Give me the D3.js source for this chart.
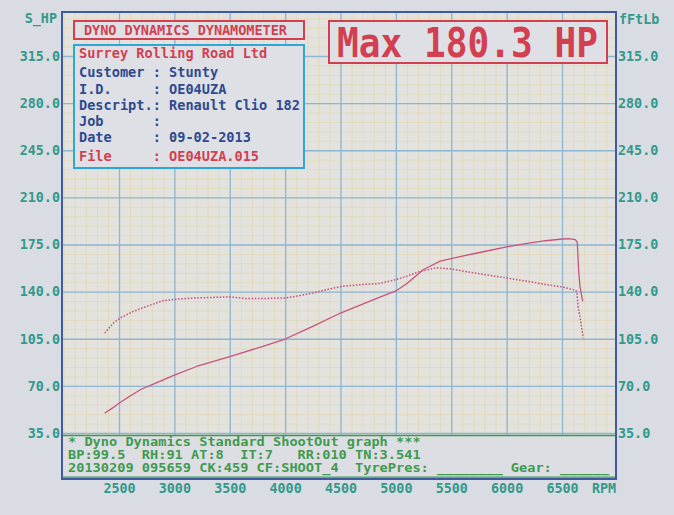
<!DOCTYPE html>
<html><head><meta charset="utf-8">
<script src="https://cdn.jsdelivr.net/npm/d3@7/dist/d3.min.js"></script>
<style>
html,body{margin:0;padding:0;background:#d9dce3;}
svg{display:block;}
text{font-family:"DejaVu Sans Mono","Liberation Mono",monospace;font-weight:bold;}
</style></head>
<body>
<svg id="c" width="674" height="515"></svg>
<script>
// ---- data ----
const powerRpm = [2370,2450,2500,2600,2700,2800,2900,3000,3200,3500,3800,4000,4250,4500,4650,4850,5000,5100,5250,5400,5600,5800,6000,6200,6350,6480,6560,6620,6638,6645,6650,6662,6675,6687];
const powerHp  = [49.7,54.0,57.1,62.5,67.5,71.0,74.5,78.0,84.4,91.8,99.3,104.8,114.2,124.1,129.1,135.8,140.5,146.0,156.4,162.6,166.3,169.8,173.3,176.0,177.8,178.9,179.4,178.6,176.7,165.0,156.0,144.0,138.0,132.8];
const torqueRpm = [2370,2450,2510,2630,2750,2900,3050,3200,3500,3650,3800,4000,4100,4250,4400,4525,4700,4850,5000,5100,5220,5370,5490,5700,6000,6200,6360,6500,6600,6633,6645,6665,6680,6693];
const torqueFtLb = [109.2,116.7,120.4,125.3,129.1,133.3,134.6,135.3,136.1,134.8,134.9,135.3,136.5,139.0,142.0,144.0,145.3,146.0,148.9,151.5,155.1,157.7,156.9,154.0,150.2,147.5,145.2,143.5,141.5,140.2,129.1,120.0,112.0,105.5];
const rpmTicks = [2500,3000,3500,4000,4500,5000,5500,6000,6500];
const valueTicks = [35,70,105,140,175,210,245,280,315];
const headerTitle = "DYNO DYNAMICS DYNAMOMETER";
const maxLabel = "Max 180.3 HP";
const infoLines = [
  {t:"Surrey Rolling Road Ltd", red:true},
  {t:"Customer : Stunty"},
  {t:"I.D.     : OE04UZA"},
  {t:"Descript.: Renault Clio 182"},
  {t:"Job      :"},
  {t:"Date     : 09-02-2013"},
  {t:"File     : OE04UZA.015", red:true}
];
const footLines = [
  "* Dyno Dynamics Standard ShootOut graph ***",
  "BP:99.5  RH:91 AT:8  IT:7   RR:010 TN:3.541",
  "20130209 095659 CK:459 CF:SHOOT_4  TyrePres: ________ Gear: ______"
];

// ---- layout ----
const svg = d3.select("#c");
const L = 62, R = 616, T = 12, B = 479, gridBottom = 435;
const x = d3.scaleLinear().domain([2500,6500]).range([119,562]);
const y = d3.scaleLinear().domain([35,315]).range([433,56]);

const teal = "#33998a", green = "#3f9a4e", red = "#d23f50", navy = "#2d4a8e",
      frame = "#3e5aa2", cyan = "#2ea6d6", major = "#8db6d3", minor = "#e0d49a", curve = "#c6547f";

svg.append("rect").attr("width",674).attr("height",515).attr("fill","#d9dce3");
svg.append("rect").attr("x",L).attr("y",T).attr("width",R-L).attr("height",B-T).attr("fill","#e3e2de");

const defs = svg.append("defs");
defs.append("clipPath").attr("id","plotclip").append("rect")
  .attr("x",L).attr("y",T).attr("width",R-L).attr("height",gridBottom-T);

const g = svg.append("g").attr("clip-path","url(#plotclip)");

// minor grid
const minorX = d3.range(2000,7101,100);
const minorY = d3.range(0,351,7);
g.append("g").call(d3.axisBottom(x).tickValues(minorX).tickSize(-(gridBottom-T)).tickFormat(""))
  .attr("transform",`translate(0,${gridBottom})`)
  .call(a=>{a.select(".domain").remove();a.selectAll("line").attr("stroke",minor).attr("stroke-width",0.8).attr("stroke-opacity",0.6);});
g.append("g").call(d3.axisLeft(y).tickValues(minorY).tickSize(-(R-L)).tickFormat(""))
  .attr("transform",`translate(${L},0)`)
  .call(a=>{a.select(".domain").remove();a.selectAll("line").attr("stroke",minor).attr("stroke-width",0.8).attr("stroke-opacity",0.6);});

// major grid
g.append("g").call(d3.axisBottom(x).tickValues(rpmTicks).tickSize(-(gridBottom-T)).tickFormat(""))
  .attr("transform",`translate(0,${gridBottom})`)
  .call(a=>{a.select(".domain").remove();a.selectAll("line").attr("stroke",major).attr("stroke-width",1.3);});
g.append("g").call(d3.axisLeft(y).tickValues(valueTicks).tickSize(-(R-L)).tickFormat(""))
  .attr("transform",`translate(${L},0)`)
  .call(a=>{a.select(".domain").remove();a.selectAll("line").attr("stroke",major).attr("stroke-width",1.3);});

// curves
const line = d3.line().x(d=>x(d[0])).y(d=>y(d[1]));
g.append("path").datum(powerRpm.map((r,i)=>[r,powerHp[i]])).attr("d",line)
  .attr("fill","none").attr("stroke",curve).attr("stroke-width",1.3).attr("stroke-linejoin","round");
g.append("path").datum(torqueRpm.map((r,i)=>[r,torqueFtLb[i]])).attr("d",line)
  .attr("fill","none").attr("stroke",curve).attr("stroke-width",1.5).attr("stroke-dasharray","1.6,1.6");

// header box
svg.append("rect").attr("x",74).attr("y",21).attr("width",230).attr("height",18)
  .attr("fill","#dfe0e6").attr("stroke",red).attr("stroke-width",2);
svg.append("text").attr("x",84).attr("y",30).attr("dy","0.36em").attr("fill",red)
  .attr("font-size",13.6).attr("textLength",203).text(headerTitle);

// info box
svg.append("rect").attr("x",74).attr("y",45).attr("width",230).attr("height",123)
  .attr("fill","#dfe0e6").attr("stroke",cyan).attr("stroke-width",2);
const lineYs = [53,72,89,105,121,137,156];
svg.append("g").selectAll("text").data(infoLines).join("text")
  .attr("x",79).attr("y",(d,i)=>lineYs[i]).attr("dy","0.36em")
  .attr("fill",d=>d.red?red:navy).attr("font-size",13.6)
  .attr("xml:space","preserve").style("white-space","pre").text(d=>d.t);

// max box
svg.append("rect").attr("x",329).attr("y",21).attr("width",278).attr("height",42)
  .attr("fill","#dfe0e6").attr("stroke",red).attr("stroke-width",2);
svg.append("text").attr("x",337).attr("y",57).attr("fill",red)
  .attr("font-size",40).attr("textLength",261).attr("lengthAdjust","spacingAndGlyphs").text(maxLabel);

// footer info box
svg.append("rect").attr("x",L).attr("y",gridBottom).attr("width",R-L).attr("height",B-gridBottom)
  .attr("fill","#dcdee3");
svg.append("line").attr("x1",L).attr("x2",R).attr("y1",gridBottom+0.5).attr("y2",gridBottom+0.5)
  .attr("stroke",green).attr("stroke-width",1.5);
svg.append("line").attr("x1",L).attr("x2",R).attr("y1",B-1.8).attr("y2",B-1.8)
  .attr("stroke",green).attr("stroke-width",1.2);
svg.append("g").selectAll("text").data(footLines).join("text")
  .attr("x",68).attr("y",(d,i)=>441+i*13).attr("dy","0.36em")
  .attr("fill",green).attr("font-size",13)
  .attr("textLength",d=>d.length*8.2).attr("lengthAdjust","spacingAndGlyphs")
  .attr("xml:space","preserve").style("white-space","pre").text(d=>d);

// frame
svg.append("rect").attr("x",L).attr("y",T).attr("width",R-L).attr("height",B-T)
  .attr("fill","none").attr("stroke",frame).attr("stroke-width",2);

// axes labels
const fmt = d3.format(".1f");
svg.append("g").attr("transform",`translate(${L-1},0)`)
  .call(d3.axisLeft(y).tickValues(valueTicks).tickSize(0).tickPadding(1).tickFormat(fmt))
  .call(a=>{a.select(".domain").remove();a.selectAll("text").attr("fill",teal).attr("font-size",13.4)
    .style("font-family","DejaVu Sans Mono").style("font-weight","bold");});
svg.append("g").attr("transform",`translate(${R+1},0)`)
  .call(d3.axisRight(y).tickValues(valueTicks).tickSize(0).tickPadding(1).tickFormat(fmt))
  .call(a=>{a.select(".domain").remove();a.selectAll("text").attr("fill",teal).attr("font-size",13.4)
    .style("font-family","DejaVu Sans Mono").style("font-weight","bold");});
svg.append("g").attr("transform",`translate(0,${B})`)
  .call(d3.axisBottom(x).tickValues(rpmTicks).tickSize(0).tickFormat(d3.format("d")))
  .call(a=>{a.select(".domain").remove();a.selectAll("text").attr("fill",teal).attr("font-size",13.4)
    .attr("y",9).attr("dy","0.36em")
    .style("font-family","DejaVu Sans Mono").style("font-weight","bold");});
svg.append("text").attr("x",592).attr("y",B+9).attr("dy","0.36em").attr("fill",teal)
  .attr("font-size",13.4).text("RPM");
svg.append("text").attr("x",57).attr("y",18).attr("dy","0.36em").attr("text-anchor","end")
  .attr("fill",teal).attr("font-size",13.4).text("S_HP");
svg.append("text").attr("x",619).attr("y",19).attr("dy","0.36em")
  .attr("fill",teal).attr("font-size",13.4).text("fFtLb");
</script>
</body></html>
